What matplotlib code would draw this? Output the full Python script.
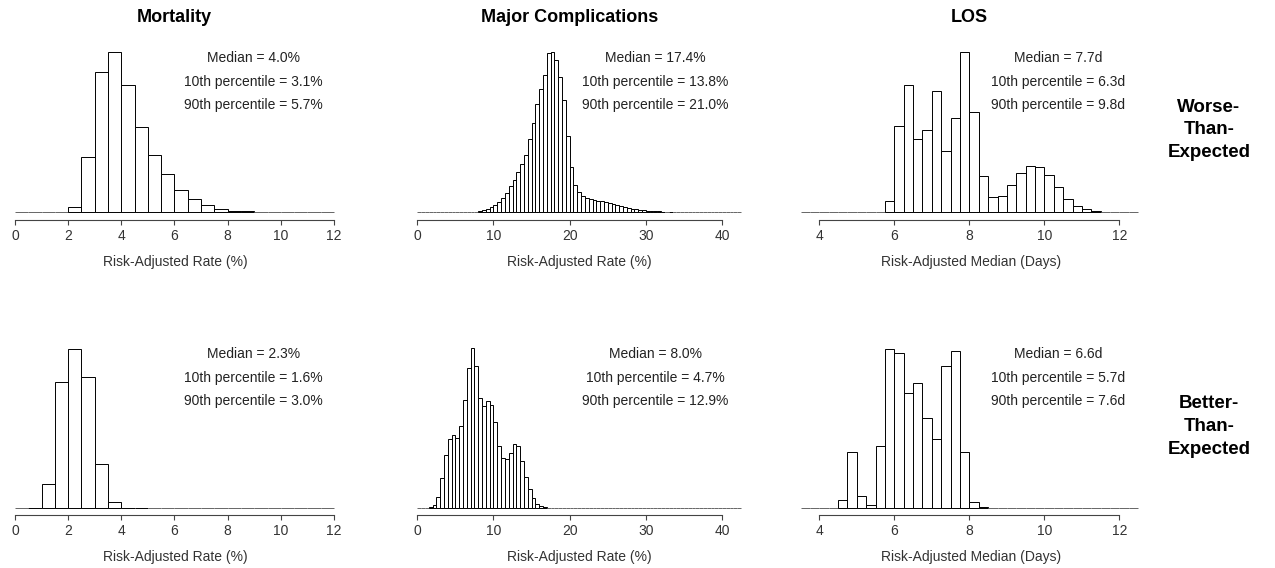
import numpy as np
import matplotlib
matplotlib.use("Agg")
import matplotlib.pyplot as plt

plt.rcParams['font.family'] = ['Liberation Sans', 'DejaVu Sans']

# histogram bar heights (relative frequency, arbitrary units)
mort_worse = [0, 0, 0, 0, 14, 164, 421, 479, 380, 256, 170, 114, 66, 39, 21, 10, 4, 2,
              0, 0, 0, 0, 0, 0]
mort_better = [0, 2, 73, 380, 478, 393, 133, 18, 2, 2,
               0, 0, 0, 0, 0, 0, 0, 0, 0, 0, 0, 0, 0, 0]
mort_start, mort_width = 0.0, 0.5

comp_worse = ([0] * 16 +
              [2, 5, 9, 14, 20, 30, 42, 58, 78, 97, 120, 145, 172, 220, 268, 325, 370, 410,
               478, 479, 455, 405, 335, 228, 135, 82, 60, 48, 42, 38, 36, 34, 33, 31, 28, 25,
               22, 19, 16, 13, 10, 8, 6, 5, 4, 4, 3, 2, 1, 0, 1] +
              [0] * 18)
comp_better = ([0] * 3 +
               [3, 11, 34, 91, 161, 209, 221, 211, 246, 326, 421, 481, 426, 331, 306, 323,
                311, 259, 188, 151, 149, 166, 193, 188, 143, 93, 59, 31, 14, 8, 4] +
               [0] * 51)
comp_start, comp_width = 0.0, 0.5

los_worse = ([0] * 9 +
             [32, 257, 380, 219, 247, 364, 184, 282, 479, 299, 109, 44, 49, 80, 117, 137,
              135, 111, 76, 39, 17, 8, 3] +
             [0] * 4)
los_better = ([0] * 4 +
              [24, 170, 38, 9, 187, 478, 465, 345, 377, 270, 208, 428, 472, 168, 19, 3] +
              [0] * 16)
los_start, los_width = 3.5, 0.25

col_titles = ["Mortality", "Major Complications", "LOS"]
row_labels = ["Worse-\nThan-\nExpected", "Better-\nThan-\nExpected"]
xlabels = ["Risk-Adjusted Rate (%)", "Risk-Adjusted Rate (%)", "Risk-Adjusted Median (Days)"]
xticks = [[0, 2, 4, 6, 8, 10, 12], [0, 10, 20, 30, 40], [4, 6, 8, 10, 12]]
stats = [
    [["Median = 4.0%", "10th percentile = 3.1%", "90th percentile = 5.7%"],
     ["Median = 17.4%", "10th percentile = 13.8%", "90th percentile = 21.0%"],
     ["Median = 7.7d", "10th percentile = 6.3d", "90th percentile = 9.8d"]],
    [["Median = 2.3%", "10th percentile = 1.6%", "90th percentile = 3.0%"],
     ["Median = 8.0%", "10th percentile = 4.7%", "90th percentile = 12.9%"],
     ["Median = 6.6d", "10th percentile = 5.7d", "90th percentile = 7.6d"]],
]
heights = [[mort_worse, comp_worse, los_worse], [mort_better, comp_better, los_better]]
bins = [(mort_start, mort_width), (comp_start, comp_width), (los_start, los_width)]

W, H = 1275, 568
fig = plt.figure(figsize=(W / 100, H / 100), dpi=100)

# pixel layout of each column: left, width, xlim, text x (axes fraction)
cols = [(7.0, 337.6, (-0.3, 12.4), 0.729),
        (409.7, 339.0, (-1.0, 43.5), 0.724),
        (800.6, 341.3, (3.5, 12.6), 0.755)]
row_tops = [45.0, 341.3]
row_gap = [5.5, 4.5]
ax_h = 167.0

for r in range(2):
    for c in range(3):
        left, width, xlim, tx = cols[c]
        top = row_tops[r]
        ax = fig.add_axes([left / W, 1 - (top + ax_h) / H, width / W, ax_h / H])
        start, w = bins[c]
        h = np.array(heights[r][c])
        edges = start + w * np.arange(len(h))
        ec = ['black' if v > 0 else '#666666' for v in h]
        ax.bar(edges, h, width=w, align='edge', facecolor='white',
               edgecolor=ec, linewidth=0.7, clip_on=False)
        ax.set_xlim(*xlim)
        ax.set_ylim(0, 501)
        for s in ['top', 'right', 'left']:
            ax.spines[s].set_visible(False)
        ax.spines['bottom'].set_position(('outward', row_gap[r]))
        ax.spines['bottom'].set_bounds(xticks[c][0], xticks[c][-1])
        ax.spines['bottom'].set_color('#444444')
        ax.spines['bottom'].set_linewidth(0.8)
        ax.set_yticks([])
        ax.set_xticks(xticks[c])
        ax.tick_params(axis='x', direction='out', length=3.6, width=0.8,
                       color='#444444', labelsize=10, labelcolor='#333333', pad=3.5)
        ax.set_xlabel(xlabels[c], fontsize=10, color='#333333', labelpad=8)
        ax.patch.set_visible(False)
        for txt, ty in zip(stats[r][c], [0.925, 0.779, 0.641]):
            ax.text(tx, ty, txt, transform=ax.transAxes, ha='center', va='center',
                    fontsize=10, color='#222222')

title_x = [174.5, 570, 969]
for t, x in zip(col_titles, title_x):
    fig.text(x / W, 1 - 18 / H, t, ha='center', va='center',
             fontsize=13, fontweight='bold')

for lab, y in zip(row_labels, [130, 426.5]):
    fig.text(1209 / W, 1 - y / H, lab, ha='center', va='center',
             fontsize=13.5, fontweight='bold', linespacing=1.45)

fig.savefig("out.png", dpi=100)
